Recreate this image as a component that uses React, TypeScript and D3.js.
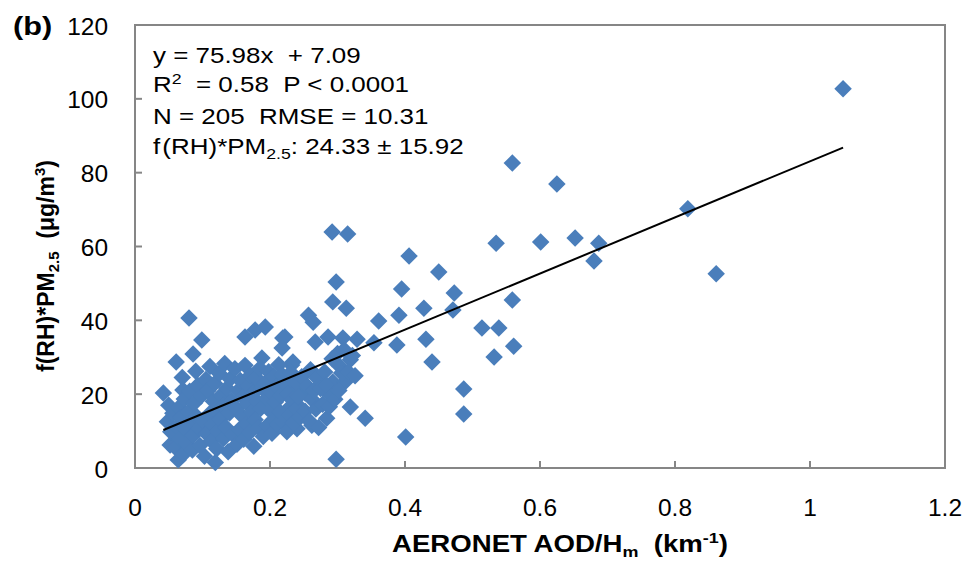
import React from "react";
import * as d3 from "d3";

// AERONET AOD/Hm (km^-1)
const aodValues: number[] = [
  1.049, 0.559, 0.625, 0.819, 0.861, 0.601, 0.652, 0.687, 0.680, 0.535,
  0.559, 0.561, 0.539, 0.532, 0.514, 0.292, 0.315, 0.406, 0.450, 0.298,
  0.395, 0.473, 0.293, 0.313, 0.428, 0.471, 0.391, 0.257, 0.264, 0.361,
  0.222, 0.267, 0.286, 0.308, 0.329, 0.354, 0.388, 0.431, 0.440, 0.232,
  0.304, 0.319, 0.293, 0.311, 0.306, 0.240, 0.252, 0.289, 0.487, 0.487,
  0.319, 0.341, 0.284, 0.262, 0.240, 0.401, 0.298, 0.225, 0.244, 0.080,
  0.099, 0.086, 0.061, 0.042, 0.163, 0.178, 0.193, 0.188, 0.219, 0.218,
  0.234, 0.071, 0.119, 0.064, 0.052,
  0.048, 0.050, 0.053, 0.056, 0.060, 0.062, 0.065, 0.066, 0.068, 0.070,
  0.072, 0.073, 0.075, 0.077, 0.079, 0.081, 0.083, 0.085, 0.086, 0.088,
  0.090, 0.091, 0.093, 0.095, 0.096, 0.098, 0.100, 0.103, 0.105, 0.106,
  0.108, 0.110, 0.111, 0.113, 0.115, 0.116, 0.118, 0.120, 0.121, 0.123,
  0.125, 0.126, 0.128, 0.130, 0.131, 0.133, 0.135, 0.136, 0.138, 0.140,
  0.141, 0.143, 0.145, 0.148, 0.150, 0.151, 0.153, 0.155, 0.156, 0.158,
  0.160, 0.161, 0.163, 0.165, 0.166, 0.168, 0.170, 0.171, 0.173, 0.175,
  0.176, 0.178, 0.180, 0.181, 0.183, 0.185, 0.186, 0.188, 0.190, 0.193,
  0.195, 0.196, 0.198, 0.200, 0.201, 0.203, 0.205, 0.206, 0.208, 0.210,
  0.211, 0.213, 0.215, 0.216, 0.218, 0.220, 0.223, 0.225, 0.227, 0.229,
  0.231, 0.233, 0.235, 0.237, 0.239, 0.242, 0.245, 0.247, 0.252, 0.255,
  0.258, 0.260, 0.262, 0.265, 0.268, 0.270, 0.272, 0.275, 0.278, 0.281,
  0.283, 0.288, 0.292, 0.296, 0.300, 0.302, 0.310, 0.316, 0.322, 0.326,
];

// f(RH)*PM2.5 (ug/m3)
const pmValues: number[] = [
  102.7, 82.6, 76.9, 70.2, 52.6, 61.2, 62.3, 60.9, 56.1, 60.9,
  45.5, 33.0, 37.9, 30.1, 37.9, 63.9, 63.4, 57.4, 53.1, 50.4,
  48.5, 47.4, 45.0, 43.3, 43.3, 42.8, 41.4, 41.4, 39.5, 39.8,
  35.5, 34.1, 35.5, 35.2, 34.9, 33.9, 33.3, 34.9, 28.7, 27.9,
  27.4, 29.3, 23.3, 23.3, 25.7, 21.7, 20.3, 19.8, 21.4, 14.6,
  16.5, 13.5, 13.5, 11.6, 10.6, 8.4, 2.4, 15.7, 16.5, 40.6,
  34.7, 30.9, 28.7, 20.3, 35.5, 37.4, 38.2, 29.8, 35.2, 32.5,
  28.7, 21.1, 1.5, 2.2, 6.2,
  12.5, 17.0, 9.8, 14.8, 5.5, 11.2, 16.4, 8.0, 13.6, 24.5,
  3.8, 18.7, 10.4, 6.6, 15.2, 20.8, 12.1, 4.9, 8.9, 17.6,
  26.2, 14.0, 22.4, 10.8, 6.1, 19.5, 12.9, 3.2, 24.0, 9.3,
  20.9, 14.6, 27.5, 7.4, 11.7, 18.1, 22.9, 15.9, 5.2, 9.9,
  25.6, 13.2, 19.8, 17.0, 8.0, 28.3, 11.0, 21.6, 4.4, 14.9,
  24.1, 18.3, 9.1, 26.9, 16.2, 6.4, 21.0, 10.5, 23.7, 14.2,
  19.1, 7.8, 27.8, 12.0, 17.4, 22.3, 9.6, 25.1, 15.0, 20.2,
  5.9, 13.1, 24.4, 18.0, 10.9, 27.0, 16.1, 21.7, 8.5, 23.0,
  18.8, 11.5, 26.1, 15.5, 20.6, 9.4, 24.8, 13.0, 17.9, 22.0,
  11.8, 28.0, 15.1, 19.6, 25.2, 12.4, 22.7, 9.8, 20.0, 14.3,
  25.9, 18.4, 12.2, 23.5, 16.0, 19.3, 13.8, 24.7, 15.4, 22.2,
  12.8, 26.6, 18.6, 20.9, 16.0, 24.3, 11.0, 21.5, 17.3, 26.0,
  22.5, 16.6, 29.6, 18.6, 31.0, 21.0, 32.0, 26.0, 30.5, 25.0,
];

const xTicks: number[] = [0, 0.2, 0.4, 0.6, 0.8, 1, 1.2];
const yTicks: number[] = [0, 20, 40, 60, 80, 100, 120];
const fitSlope = 75.98;
const fitIntercept = 7.09;

const FONT = "Arial, 'Liberation Sans', sans-serif";
const NB = "\u00A0";

export default function App() {
  const W = 973;
  const H = 568;
  const left = 135, right = 945, top = 25, bottom = 468;
  const x = d3.scaleLinear().domain([0, 1.2]).range([left, right]);
  const y = d3.scaleLinear().domain([0, 120]).range([bottom, top]);

  const pts = aodValues.map((v, i) => [v, pmValues[i]] as [number, number]);
  const [xmin, xmax] = d3.extent(aodValues) as [number, number];
  const fitLine = d3.line<number>()
    .x((v) => x(v))
    .y((v) => y(fitSlope * v + fitIntercept));

  const diamond = d3.symbol().type(d3.symbolDiamond2).size(195)();
  const axisColor = "#868686";
  const tickLen = 7;
  const sx = 1.18; // horizontal stretch of text in reference
  const tsx = 1.02;

  return (
    <svg width={W} height={H} style={{ position: "absolute", left: 0, top: 0, background: "#fff" }}>
      <rect x={0} y={0} width={W} height={H} fill="#fff" />
      {/* frame */}
      <rect x={left} y={top} width={right - left} height={bottom - top} fill="none" stroke={axisColor} strokeWidth={2} />
      {/* ticks */}
      {xTicks.map((t) => (
        <line key={"xt" + t} x1={x(t)} x2={x(t)} y1={bottom} y2={bottom - tickLen} stroke={axisColor} strokeWidth={2} />
      ))}
      {yTicks.map((t) => (
        <line key={"yt" + t} x1={left} x2={left + tickLen} y1={y(t)} y2={y(t)} stroke={axisColor} strokeWidth={2} />
      ))}
      {/* tick labels */}
      {xTicks.map((t) => (
        <text key={"xl" + t} transform={`translate(${x(t)},516) scale(${tsx},1)`} textAnchor="middle" fontFamily={FONT} fontSize={24} fill="#000">
          {d3.format("~g")(t)}
        </text>
      ))}
      {yTicks.map((t) => (
        <text key={"yl" + t} transform={`translate(108,${y(t) + 9.5}) scale(${tsx},1)`} textAnchor="end" fontFamily={FONT} fontSize={24} fill="#000">
          {t}
        </text>
      ))}
      {/* points */}
      <g fill="#4a7ebb">
        {pts.map((p, i) => (
          <path key={i} d={diamond as string} transform={`translate(${x(p[0])},${y(p[1])})`} />
        ))}
      </g>
      {/* fit line */}
      <path d={fitLine([xmin, xmax]) as string} fill="none" stroke="#000" strokeWidth={2} />
      {/* annotation */}
      <g fontFamily={FONT} fontSize={22} fill="#000">
        <text transform={`translate(153,63) scale(${sx},1)`}>{`y = 75.98x${NB} + 7.09`}</text>
        <text transform={`translate(153,92) scale(${sx},1)`}>
          R<tspan dy={-8} fontSize={15}>2</tspan>
          <tspan dy={8}>{`${NB} = 0.58${NB} P < 0.0001`}</tspan>
        </text>
        <text transform={`translate(153,124) scale(${sx},1)`}>{`N = 205${NB} RMSE = 10.31`}</text>
        <text transform={`translate(153,154) scale(${sx},1)`}>
          {"f\u200A(RH)*PM"}
          <tspan dy={5} fontSize={15}>2.5</tspan>
          <tspan dy={-5}>{": 24.33 ± 15.92"}</tspan>
        </text>
      </g>
      {/* panel label */}
      <text transform="translate(13,35) scale(1.18,1)" fontFamily={FONT} fontSize={26} fontWeight="bold" fill="#000">(b)</text>
      {/* axis titles */}
      <text transform={`translate(560,552) scale(1.2,1)`} textAnchor="middle" fontFamily={FONT} fontSize={23} fontWeight="bold" fill="#000">
        AERONET AOD/H<tspan dy={5} fontSize={15}>m</tspan>
        <tspan dy={-5}>{`${NB} (km`}</tspan>
        <tspan dy={-9} fontSize={15}>-1</tspan>
        <tspan dy={9}>)</tspan>
      </text>
      <text transform="translate(54,266) rotate(-90)" textAnchor="middle" fontFamily={FONT} fontSize={23} fontWeight="bold" fill="#000">
        f(RH)*PM<tspan dy={5} fontSize={15}>2.5</tspan>
        <tspan dy={-5}>{`${NB} (μg/m`}</tspan>
        <tspan dy={-9} fontSize={15}>3</tspan>
        <tspan dy={9}>)</tspan>
      </text>
    </svg>
  );
}
